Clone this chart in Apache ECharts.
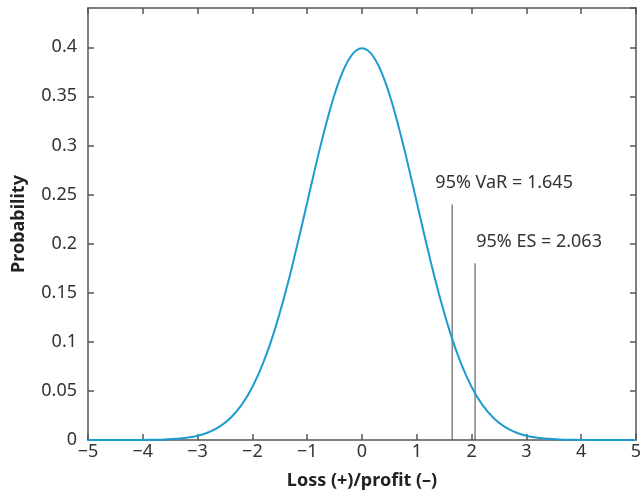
<!DOCTYPE html>
<html>
<head>
<meta charset="utf-8">
<script src="https://cdn.jsdelivr.net/npm/echarts@6/dist/echarts.min.js"></script>
<style>
  html, body { margin: 0; padding: 0; background: #fff; }
  #chart { width: 642px; height: 493px; }
</style>
</head>
<body>
<div id="chart"></div>
<script>
// 曲线上读出的点（x：损益，y：概率密度）
var xs = [-5, -4.8, -4.6, -4.4, -4.2, -4, -3.8, -3.6, -3.4, -3.2, -3, -2.8, -2.6, -2.4, -2.2, -2, -1.8, -1.6, -1.4, -1.2,
          -1, -0.9, -0.8, -0.7, -0.6, -0.5, -0.4, -0.3, -0.2, -0.1, 0, 0.1, 0.2, 0.3, 0.4, 0.5, 0.6, 0.7, 0.8, 0.9, 1,
          1.2, 1.4, 1.6, 1.8, 2, 2.2, 2.4, 2.6, 2.8, 3, 3.2, 3.4, 3.6, 3.8, 4, 4.2, 4.4, 4.6, 4.8, 5];
var probs = [0, 0, 0, 0, 0, 0.0001, 0.0003, 0.0006, 0.0012, 0.0024, 0.0044, 0.0079, 0.0136, 0.0224, 0.0355, 0.054, 0.079, 0.1109, 0.1497, 0.1942,
             0.242, 0.2661, 0.2897, 0.3123, 0.3332, 0.3521, 0.3683, 0.3814, 0.391, 0.397, 0.3989, 0.397, 0.391, 0.3814, 0.3683, 0.3521, 0.3332, 0.3123, 0.2897, 0.2661, 0.242,
             0.1942, 0.1497, 0.1109, 0.079, 0.054, 0.0355, 0.0224, 0.0136, 0.0079, 0.0044, 0.0024, 0.0012, 0.0006, 0.0003, 0.0001, 0, 0, 0, 0, 0];

// 竖线：VaR 和 ES
var varX = 1.645, varTop = 0.24;
var esX = 2.063, esTop = 0.18;
var varText = '95% VaR = 1.645';
var esText = '95% ES = 2.063';

var curve = [];
for (var i = 0; i < xs.length; i++) {
    curve.push([xs[i], probs[i]]);
}

var chart = echarts.init(document.getElementById('chart'));

var fontFam = '"Noto Sans", sans-serif';
var axisCol = '#555';
var tick = { show: true, inside: true, length: 6, lineStyle: { color: axisCol, width: 1.5 } };

var option = {
    backgroundColor: '#fff',
    animation: false,
    grid: { left: 88, right: 6, top: 8, bottom: 53, containLabel: false, outerBoundsMode: 'none' },
    xAxis: [{
        type: 'value',
        min: -5, max: 5, interval: 1,
        name: 'Loss (+)/profit (\u2013)',
        nameLocation: 'middle',
        nameGap: 32,
        nameTextStyle: { fontFamily: fontFam, fontSize: 18, fontWeight: 'bold', color: '#222' },
        axisLine: { onZero: false, lineStyle: { color: axisCol, width: 1.5 } },
        axisTick: tick,
        axisLabel: {
            fontFamily: fontFam, fontSize: 18, color: '#333', margin: 3,
            formatter: function (v) { return v < 0 ? '\u2212' + Math.abs(v) : String(v); }
        },
        splitLine: { show: false }
    }, {
        type: 'value', position: 'top',
        min: -5, max: 5, interval: 1,
        axisLine: { onZero: false, lineStyle: { color: axisCol, width: 1.5 } },
        axisTick: tick,
        axisLabel: { show: false },
        splitLine: { show: false }
    }],
    yAxis: [{
        type: 'value',
        min: 0, max: 0.44, interval: 0.05,
        name: 'Probability',
        nameLocation: 'middle',
        nameGap: 60,
        nameTextStyle: { fontFamily: fontFam, fontSize: 18, fontWeight: 'bold', color: '#222' },
        axisLine: { show: true, onZero: false, lineStyle: { color: axisCol, width: 1.5 } },
        axisTick: tick,
        axisLabel: {
            fontFamily: fontFam, fontSize: 18, color: '#333', margin: 11,
            showMaxLabel: false,
            formatter: function (v) { return String(Math.round(v * 100) / 100); }
        },
        splitLine: { show: false }
    }, {
        type: 'value', position: 'right',
        min: 0, max: 0.44, interval: 0.05,
        axisLine: { show: true, onZero: false, lineStyle: { color: axisCol, width: 1.5 } },
        axisTick: tick,
        axisLabel: { show: false },
        splitLine: { show: false }
    }],
    series: [{
        type: 'line',
        data: curve,
        smooth: true,
        symbol: 'none',
        lineStyle: { color: '#1e9cd0', width: 2 },
        z: 3
    }, {
        type: 'line',
        data: [[varX, 0], [varX, varTop]],
        symbol: 'none',
        lineStyle: { color: '#444', width: 1 },
        endLabel: {
            show: true,
            formatter: varText,
            fontFamily: fontFam, fontSize: 18, color: '#333',
            align: 'center', verticalAlign: 'bottom',
            offset: [44, -12]
        },
        z: 2
    }, {
        type: 'line',
        data: [[esX, 0], [esX, esTop]],
        symbol: 'none',
        lineStyle: { color: '#444', width: 1 },
        endLabel: {
            show: true,
            formatter: esText,
            fontFamily: fontFam, fontSize: 18, color: '#333',
            align: 'center', verticalAlign: 'bottom',
            offset: [56, -12]
        },
        z: 2
    }]
};

chart.setOption(option);
</script>
</body>
</html>
